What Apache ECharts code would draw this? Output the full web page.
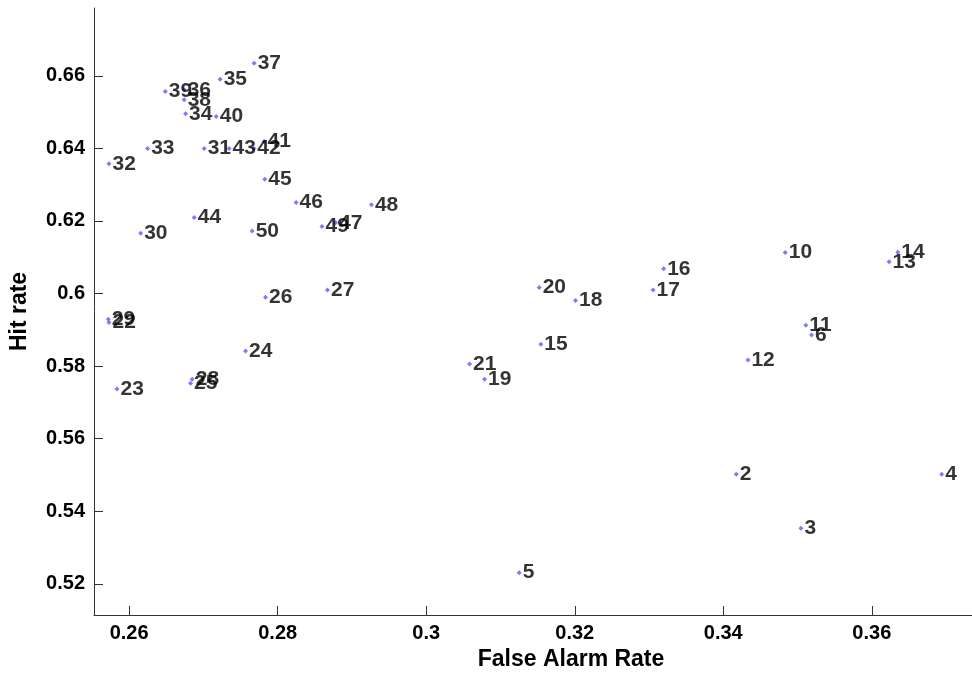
<!DOCTYPE html>
<html>
<head>
<meta charset="utf-8">
<script src="https://cdn.jsdelivr.net/npm/echarts@6/dist/echarts.min.js"></script>
<style>
html,body{margin:0;padding:0;background:#fff;}
#chart{width:972px;height:676px;}
</style>
</head>
<body>
<div id="chart"></div>
<script>
const pointLabels = ['2','3','4','5','6','10','11','12','13','14','15','16','17','18','19','20','21','22','23','24','25','26','27','28','29','30','31','32','33','34','35','36','37','38','39','40','41','42','43','44','45','46','47','48','49','50'];
const falseAlarm = [0.34175,0.35045,0.36942,0.31252,0.35188,0.34834,0.35112,0.34332,0.36233,0.3635,0.31543,0.33197,0.33055,0.3201,0.30786,0.31521,0.30584,0.25728,0.25836,0.27567,0.26827,0.27836,0.2867,0.26849,0.25719,0.26155,0.2701,0.25728,0.26249,0.2676,0.27225,0.26741,0.27683,0.26741,0.26486,0.27172,0.27817,0.27679,0.27346,0.26876,0.27827,0.28248,0.28781,0.29262,0.28597,0.27656];
const hitRate = [0.5502,0.5353,0.5502,0.52307,0.5886,0.61129,0.59127,0.58171,0.60873,0.6114,0.58604,0.6068,0.601,0.59806,0.57639,0.60164,0.58061,0.59199,0.57372,0.58419,0.57529,0.599,0.601,0.57639,0.59293,0.61664,0.63996,0.63574,0.63996,0.64952,0.65909,0.65614,0.6635,0.65338,0.65567,0.64878,0.64189,0.63996,0.63996,0.62094,0.63152,0.62507,0.61948,0.62444,0.61846,0.61727];
const xTitle = 'False Alarm Rate';
const yTitle = 'Hit rate';

const data = pointLabels.map((n, i) => [falseAlarm[i], hitRate[i], n]);
const FONT = '"Liberation Sans", Arial, sans-serif';

const chart = echarts.init(document.getElementById('chart'), null, {renderer: 'canvas'});
chart.setOption({
  animation: false,
  backgroundColor: '#fff',
  grid: {left: 93, top: 8, bottom: 61, right: 0, containLabel: false},
  xAxis: {
    type: 'value',
    min: 0.255266, max: 0.37349,
    minInterval: 0.02, maxInterval: 0.02,
    splitLine: {show: false},
    axisLine: {show: true, lineStyle: {color: '#333', width: 1}},
    axisTick: {show: true, inside: true, length: 9, lineStyle: {color: '#333'}},
    axisLabel: {showMinLabel: false, showMaxLabel: false, margin: 8, color: '#000', fontWeight: 'bold', fontSize: 20, fontFamily: FONT},
    name: xTitle, nameLocation: 'middle', nameGap: 33,
    nameTextStyle: {color: '#000', fontWeight: 'bold', fontSize: 23, fontFamily: FONT, padding: [0, 0, 0, 76]}
  },
  yAxis: {
    type: 'value',
    min: 0.5114, max: 0.6787,
    minInterval: 0.02, maxInterval: 0.02,
    splitLine: {show: false},
    axisLine: {show: true, lineStyle: {color: '#333', width: 1}},
    axisTick: {show: true, inside: true, length: 9, lineStyle: {color: '#333'}},
    axisLabel: {showMinLabel: false, showMaxLabel: false, margin: 9, color: '#000', fontWeight: 'bold', fontSize: 20, fontFamily: FONT},
    name: yTitle, nameLocation: 'middle', nameGap: 63,
    nameTextStyle: {color: '#000', fontWeight: 'bold', fontSize: 23, fontFamily: FONT}
  },
  series: [{
    type: 'scatter',
    data: data,
    symbol: 'diamond',
    symbolSize: 5,
    itemStyle: {color: '#5a5aff'},
    label: {
      show: true,
      position: 'right',
      distance: 1,
      offset: [0, -1],
      formatter: p => p.data[2],
      color: '#000',
      fontWeight: 'bold',
      fontSize: 21,
      fontFamily: FONT
    },
    labelLayout: {hideOverlap: false}
  }]
});
</script>
</body>
</html>
